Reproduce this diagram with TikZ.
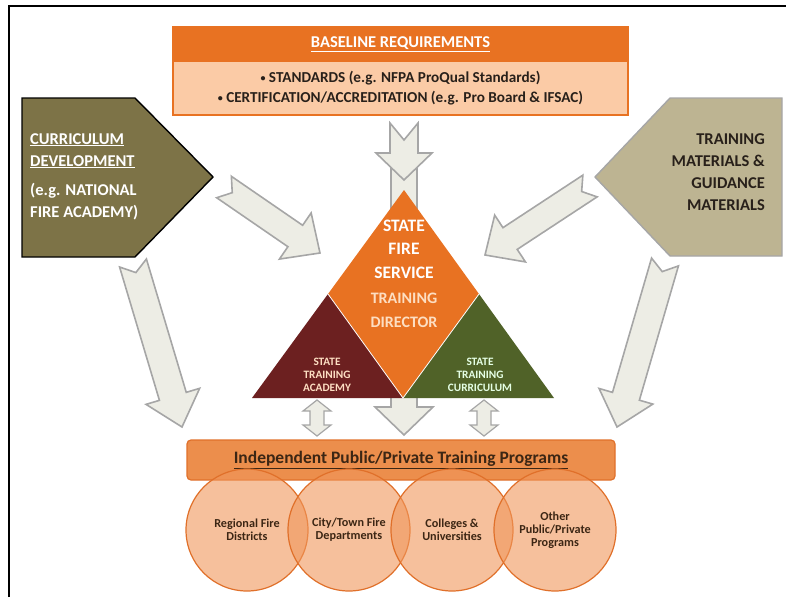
\documentclass[tikz,border=0pt]{standalone}
\usepackage{fontspec}
\setmainfont{Carlito}
\usetikzlibrary{positioning,calc}
\definecolor{fireorange}{RGB}{232,114,34}
\definecolor{peach}{RGB}{251,203,166}
\definecolor{olive}{RGB}{125,115,71}
\definecolor{khaki}{RGB}{189,180,146}
\definecolor{maroon}{RGB}{108,32,32}
\definecolor{leafgreen}{RGB}{80,98,40}
\definecolor{arrowfill}{RGB}{237,237,229}
\definecolor{arrowline}{RGB}{166,166,166}
\definecolor{barorange}{RGB}{236,142,76}
\definecolor{baredge}{RGB}{224,112,42}
\definecolor{ringorange}{RGB}{240,150,90}
\definecolor{darkbrown}{RGB}{60,38,20}
\definecolor{softpeach}{RGB}{253,222,194}
\definecolor{darktext}{RGB}{40,32,26}
\newcommand{\smallbullet}{\raisebox{0.25ex}{\fontsize{10}{10}\selectfont\textbullet}}
\tikzset{
  blockarrow/.style={draw=arrowline, fill=arrowfill, line width=1.6pt, line join=miter},
  basehead/.style={fill=fireorange, text=white, minimum width=455pt, minimum height=35pt, inner sep=0pt, font=\fontsize{16.5}{18}\selectfont\bfseries},
  baselist/.style={fill=peach, text=darktext, minimum width=455pt, minimum height=53pt, inner sep=0pt, align=center, font=\fontsize{15.2}{20}\selectfont\bfseries},
  curricshape/.style={draw=black, fill=olive, line width=1.4pt},
  guideshape/.style={draw=arrowline, fill=khaki, line width=1.4pt},
  sidetext/.style={inner sep=0pt, font=\fontsize{16.5}{22}\selectfont\bfseries},
  directortext/.style={text=white, align=center, inner sep=0pt, font=\fontsize{17.5}{23.5}\selectfont\bfseries},
  smalltri/.style={align=center, inner sep=0pt, font=\fontsize{11.3}{12.8}\selectfont\bfseries},
  programbar/.style={draw=baredge, fill=barorange, line width=1.2pt, rounded corners=4pt, minimum width=428pt, minimum height=40pt, text=darkbrown, font=\fontsize{17.5}{19}\selectfont\bfseries},
  ring/.style={circle, minimum size=122pt, inner sep=0pt, draw=baredge, line width=1.2pt, fill=ringorange, fill opacity=0.6, text opacity=1, text=darkbrown, align=center, font=\fontsize{12.2}{13.2}\selectfont\bfseries}
}
% block arrow with a notched tail: from, to, shaft half width, head half width, head length, notch
\newcommand{\notcharrow}[6]{%
  \coordinate (na-base) at ($(#2)!#5!(#1)$);
  \coordinate (na-notch) at ($(#1)!#6!(#2)$);
  \draw[blockarrow] ($(#1)!#3!90:(#2)$) -- ($(na-base)!#3!90:(#2)$) -- ($(na-base)!#4!90:(#2)$) -- (#2)
    -- ($(na-base)!#4!-90:(#2)$) -- ($(na-base)!#3!-90:(#2)$) -- ($(#1)!#3!-90:(#2)$) -- (na-notch) -- cycle;
}
% block arrow with two heads: from, to, shaft half width, head half width, head length
\newcommand{\twowayarrow}[5]{%
  \coordinate (ta-a) at ($(#1)!#5!(#2)$);
  \coordinate (ta-b) at ($(#2)!#5!(#1)$);
  \draw[blockarrow, line width=1.2pt] (#1) -- ($(ta-a)!#4!90:(#2)$) -- ($(ta-a)!#3!90:(#2)$) -- ($(ta-b)!#3!90:(#2)$)
    -- ($(ta-b)!#4!90:(#2)$) -- (#2) -- ($(ta-b)!#4!-90:(#2)$) -- ($(ta-b)!#3!-90:(#2)$)
    -- ($(ta-a)!#3!-90:(#2)$) -- ($(ta-a)!#4!-90:(#2)$) -- cycle;
}
\begin{document}
\begin{tikzpicture}[x=1pt, y=-1pt]
  \useasboundingbox (0,0) rectangle (786,597);
  \draw[line width=2.2pt] (9,597) -- (9,6) -- (786,6);

  % long arrow behind the triangle
  \coordinate (dirtail) at (404,150);
  \coordinate (dirtip) at (404,435);
  \notcharrow{dirtail}{dirtip}{13pt}{29pt}{28pt}{0pt}

  % baseline requirements
  \node[baselist] (baselist) at (400.5,88.5) {\smallbullet\ STANDARDS (e.g. NFPA ProQual Standards)\\\smallbullet\ CERTIFICATION/ACCREDITATION (e.g. Pro Board \& IFSAC)};
  \node[basehead] (basehead) at (400.5,44.5) {\underline{BASELINE REQUIREMENTS}};
  \draw[fireorange, line width=1.5pt] (basehead.north west) rectangle (baselist.south east);

  \coordinate (basetail) at (404,123);
  \coordinate (basetip) at (404,180);
  \notcharrow{basetail}{basetip}{14pt}{28pt}{27pt}{17pt}

  % side pentagons
  \draw[curricshape] (22,98) -- (135,98) -- (213,177) -- (135,257) -- (22,257) -- cycle;
  \node[sidetext, text=white, align=left, anchor=north west] (curric) at (30,133)
    {\underline{CURRICULUM}\\\underline{DEVELOPMENT}\\[7pt](e.g. NATIONAL\\FIRE ACADEMY)};
  \draw[guideshape] (670,98) -- (782,98) -- (782,256) -- (670,256) -- (595,177) -- cycle;
  \node[sidetext, text=darktext, align=right, anchor=north east] (guide) at (765,133)
    {TRAINING\\MATERIALS \&\\GUIDANCE\\MATERIALS};

  \coordinate (curtail) at (224,187);
  \coordinate (curtip) at (320,253);
  \notcharrow{curtail}{curtip}{13pt}{28pt}{30pt}{10pt}
  \coordinate (guitail) at (590,186);
  \coordinate (guitip) at (485,255);
  \notcharrow{guitail}{guitip}{13pt}{28pt}{30pt}{10pt}

  % triangle
  \coordinate (apex) at (404,190);
  \coordinate (leftfoot) at (252,398);
  \coordinate (rightfoot) at (554,398);
  \coordinate (leftmid) at ($(apex)!0.5!(leftfoot)$);
  \coordinate (rightmid) at ($(apex)!0.5!(rightfoot)$);
  \coordinate (footmid) at ($(leftfoot)!0.5!(rightfoot)$);
  \fill[fireorange] (apex) -- (rightmid) -- (footmid) -- (leftmid) -- cycle;
  \fill[maroon] (leftmid) -- (footmid) -- (leftfoot) -- cycle;
  \fill[leafgreen] (rightmid) -- (rightfoot) -- (footmid) -- cycle;
  \draw[white, line width=0.8pt] (leftmid) -- (footmid) -- (rightmid);

  \node[directortext] (service) at (404,249) {STATE\\FIRE\\SERVICE};
  \node[directortext, text=softpeach, font=\fontsize{16}{24}\selectfont\bfseries] (director) at (404,310) {TRAINING\\DIRECTOR};
  \node[smalltri, text=softpeach] (academy) at (327,375) {STATE\\TRAINING\\ACADEMY};
  \node[smalltri, text=white!90!green] (curriculum) at (480,375) {STATE\\TRAINING\\CURRICULUM};

  % outer arrows down to the programs
  \coordinate (lefttail) at (133,263);
  \coordinate (lefttip) at (182,427);
  \notcharrow{lefttail}{lefttip}{14pt}{28pt}{32pt}{10pt}
  \coordinate (righttail) at (665,262);
  \coordinate (righttip) at (617,427);
  \notcharrow{righttail}{righttip}{14pt}{28pt}{32pt}{10pt}

  \coordinate (acadtop) at (317,400);
  \coordinate (acadbot) at (317,436);
  \twowayarrow{acadtop}{acadbot}{7pt}{14pt}{11pt}
  \coordinate (currtop) at (484,400);
  \coordinate (currbot) at (484,436);
  \twowayarrow{currtop}{currbot}{7pt}{14pt}{11pt}

  % programs
  \node[programbar] (programs) at (401,460) {\underline{Independent Public/Private Training Programs}};
  \node[ring] (regional) at (247,530) {Regional Fire\\Districts};
  \node[ring] (citytown) at (349,530) {City/Town Fire\\Departments};
  \node[ring] (colleges) at (452,530) {Colleges \&\\Universities};
  \node[ring] (otherprog) at (555,530) {Other\\Public/Private\\Programs};
\end{tikzpicture}
\end{document}
